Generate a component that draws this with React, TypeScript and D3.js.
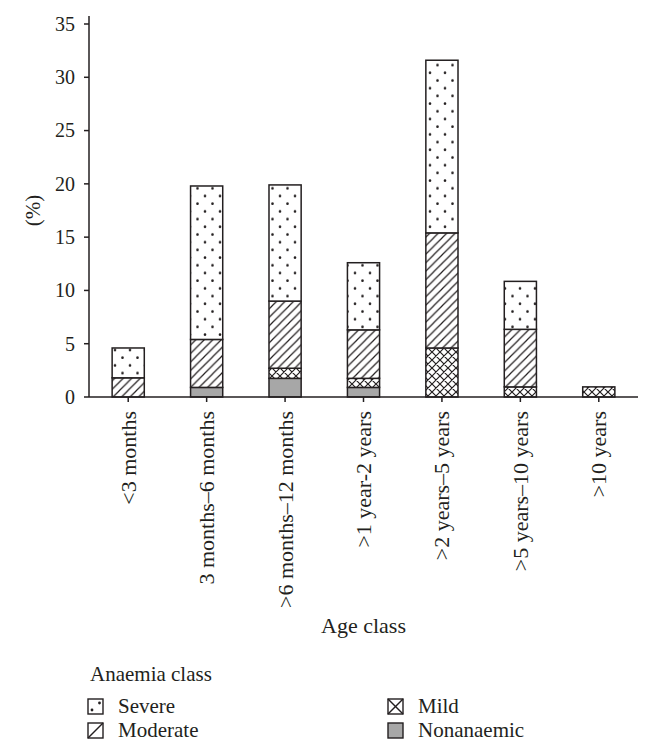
import React from 'react';
import * as d3 from 'd3';

const categories = [
  '<3 months',
  '3 months–6 months',
  '>6 months–12 months',
  '>1 year-2 years',
  '>2 years–5 years',
  '>5 years–10 years',
  '>10 years',
];
const seriesNames = ['Nonanaemic', 'Mild', 'Moderate', 'Severe'];
const nonanaemic = [0, 0.9, 1.75, 0.9, 0, 0, 0];
const mild = [0, 0, 0.95, 0.85, 4.6, 0.95, 0.95];
const moderate = [1.8, 4.5, 6.3, 4.55, 10.8, 5.4, 0];
const severe = [2.8, 14.4, 10.9, 6.3, 16.2, 4.5, 0];
const yTicks = [0, 5, 10, 15, 20, 25, 30, 35];

const FONT = '"Liberation Serif", "Times New Roman", serif';
const INK = '#231f20';
const fills: Record<string, string> = {
  Nonanaemic: '#a7a7a7',
  Mild: 'url(#cross)',
  Moderate: 'url(#hatch)',
  Severe: 'url(#dots)',
};

export default function App() {
  const left = 89;
  const right = 638;
  const top = 24;
  const bottom = 397;

  const x = d3.scaleBand<string>().domain(categories).range([left, right]).paddingInner(0.59).paddingOuter(0.295);
  const y = d3.scaleLinear().domain([0, 35]).range([bottom, top]);

  const rows = categories.map((c, i) => ({
    cat: c,
    Nonanaemic: nonanaemic[i],
    Mild: mild[i],
    Moderate: moderate[i],
    Severe: severe[i],
  }));
  const stack = d3.stack<any>().keys(seriesNames)(rows);

  const legendItems = [
    { name: 'Severe', x: 88, y: 699 },
    { name: 'Moderate', x: 88, y: 723 },
    { name: 'Mild', x: 388, y: 699 },
    { name: 'Nonanaemic', x: 388, y: 723 },
  ];

  const icon = (name: string, ix: number, iy: number) => {
    const s = 15;
    const box = (
      <rect x={ix} y={iy} width={s} height={s} fill={name === 'Nonanaemic' ? '#a7a7a7' : '#fff'} stroke={INK} strokeWidth={1.4} />
    );
    if (name === 'Severe')
      return (
        <g key={name}>
          {box}
          <circle cx={ix + 4} cy={iy + 11} r={1.4} fill={INK} />
          <circle cx={ix + 11.5} cy={iy + 4} r={1.4} fill={INK} />
        </g>
      );
    if (name === 'Moderate')
      return (
        <g key={name}>
          {box}
          <line x1={ix} y1={iy + s} x2={ix + s} y2={iy} stroke={INK} strokeWidth={1.4} />
        </g>
      );
    if (name === 'Mild')
      return (
        <g key={name}>
          {box}
          <line x1={ix} y1={iy + s} x2={ix + s} y2={iy} stroke={INK} strokeWidth={1.4} />
          <line x1={ix} y1={iy} x2={ix + s} y2={iy + s} stroke={INK} strokeWidth={1.4} />
        </g>
      );
    return <g key={name}>{box}</g>;
  };

  return (
    <svg width={650} height={755} style={{ position: 'absolute', left: 0, top: 0, background: '#fff' }} fontFamily={FONT}>
      <defs>
        <pattern id="dots" patternUnits="userSpaceOnUse" width={15} height={15.4}>
          <rect width={15} height={15.4} fill="#fff" />
          <circle cx={2.5} cy={3.5} r={1.3} fill={INK} />
          <circle cx={10} cy={11.2} r={1.3} fill={INK} />
        </pattern>
        <pattern id="hatch" patternUnits="userSpaceOnUse" width={8.5} height={8.5}>
          <rect width={8.5} height={8.5} fill="#fff" />
          <path d="M0,8.5 L8.5,0 M-2,2 L2,-2 M6.5,10.5 L10.5,6.5" stroke={INK} strokeWidth={1.2} />
        </pattern>
        <pattern id="cross" patternUnits="userSpaceOnUse" width={8} height={8}>
          <rect width={8} height={8} fill="#fff" />
          <path d="M0,8 L8,0 M-2,2 L2,-2 M6,10 L10,6 M0,0 L8,8 M-2,6 L2,10 M6,-2 L10,2" stroke={INK} strokeWidth={1.2} />
        </pattern>
      </defs>

      {/* bars */}
      {stack.map((layer) => (
        <g key={layer.key}>
          {layer.map((d, i) =>
            d[1] - d[0] > 0 ? (
              <rect
                key={i}
                x={x(categories[i])!}
                y={y(d[1])}
                width={x.bandwidth()}
                height={y(d[0]) - y(d[1])}
                fill={fills[layer.key]}
                stroke={INK}
                strokeWidth={1.5}
              />
            ) : null
          )}
        </g>
      ))}

      {/* y axis */}
      <line x1={left} y1={16} x2={left} y2={bottom} stroke={INK} strokeWidth={1.5} />
      {yTicks.map((t) => (
        <g key={t}>
          <line x1={left - 5} x2={left} y1={y(t)} y2={y(t)} stroke={INK} strokeWidth={1.5} />
          <text x={left - 14} y={y(t)} dy="0.34em" textAnchor="end" fontSize={20} fill={INK}>
            {t}
          </text>
        </g>
      ))}
      <text transform={`translate(40,${(top + bottom) / 2}) rotate(-90)`} textAnchor="middle" fontSize={21} fill={INK}>
        (%)
      </text>

      {/* x axis */}
      <line x1={left} y1={bottom} x2={right} y2={bottom} stroke={INK} strokeWidth={1.5} />
      {categories.map((c) => {
        const cx = x(c)! + x.bandwidth() / 2;
        return (
          <g key={c}>
            <line x1={cx} x2={cx} y1={bottom} y2={bottom + 5} stroke={INK} strokeWidth={1.5} />
            <text transform={`translate(${cx},${bottom + 14}) rotate(-90)`} dy="0.34em" textAnchor="end" fontSize={22} fill={INK}>
              {c}
            </text>
          </g>
        );
      })}
      <text x={(left + right) / 2} y={633} textAnchor="middle" fontSize={22} fill={INK}>
        Age class
      </text>

      {/* legend */}
      <text x={90} y={681} fontSize={21} fill={INK}>
        Anaemia class
      </text>
      {legendItems.map((it) => (
        <g key={it.name}>
          {icon(it.name, it.x, it.y)}
          <text x={it.x + 30} y={it.y + 14} fontSize={21} fill={INK}>
            {it.name}
          </text>
        </g>
      ))}
    </svg>
  );
}
